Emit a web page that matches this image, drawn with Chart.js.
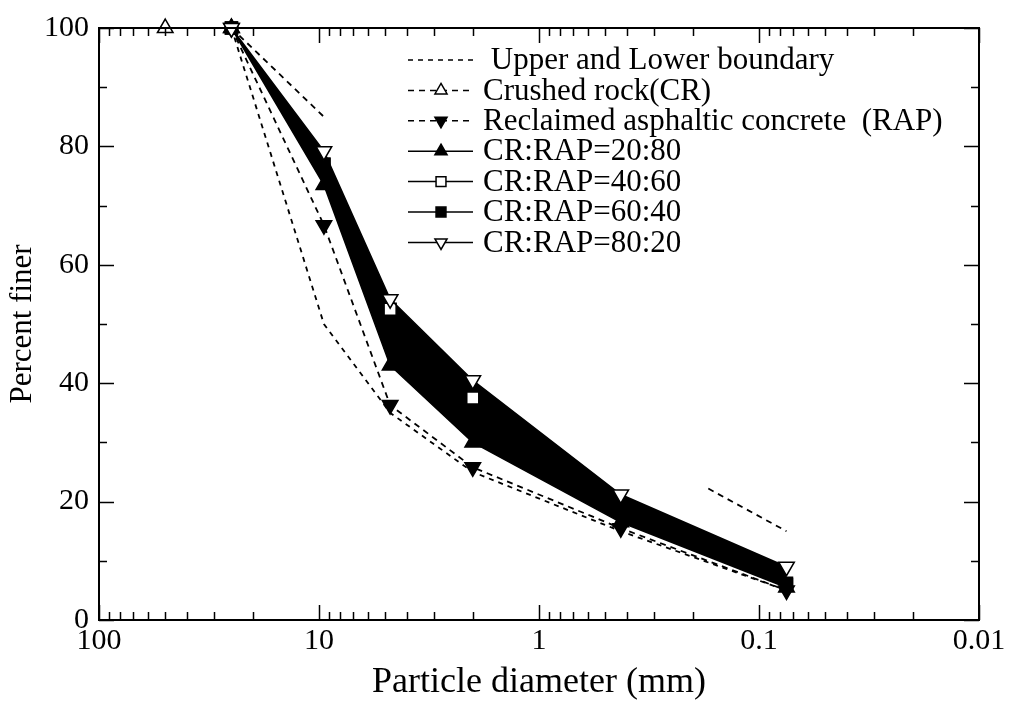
<!DOCTYPE html>
<html>
<head>
<meta charset="utf-8">
<title>Gradation curves</title>
<script src="https://cdn.jsdelivr.net/npm/chart.js@4.4.1/dist/chart.umd.min.js"></script>
<style>
  html, body { margin: 0; padding: 0; background: #fff; }
  #wrap { width: 1009px; height: 704px; }
</style>
</head>
<body>
<div id="wrap"><canvas id="gradation"></canvas></div>
<script>
// Sieve openings (mm)
const SIEVES = [50, 25, 9.5, 4.75, 2.0, 0.425, 0.075];

// Specification envelope (percent passing)
const LOWER_BOUND = [null, 100, 50, 35, 25, 15, 5];
const UPPER_X = [25, 9.5, 2.0, 0.17, 0.075];
const UPPER_BOUND = [100, 85, null, 22.2, 15];

// Materials and blends (percent passing)
const CRUSHED_ROCK = [100, 100, null, null, null, null, null];
const RAP = [null, 100, 66.7, 36.3, 25.8, 15.5, 5];
const MIX_20_80 = [null, 100, 73.5, 43, 30, 16.5, 5.5];
const MIX_40_60 = [null, 100, 77, 52.5, 37.5, 19, 6.2];
const MIX_60_40 = [null, 100, 77, 47, 34, 19, 6];
const MIX_80_20 = [null, 100, 79.2, 54.2, 40.5, 21.2, 9];

// Axis ticks
const X_DECADES = [100, 10, 1, 0.1, 0.01];
const Y_LABELS = [0, 20, 40, 60, 80, 100];

const FONT = "'Liberation Serif', 'Times New Roman', serif";

const pts = (xs, ys) => xs.map((x, i) => ({ x: x, y: ys[i] }));

// minor ticks 2..9 inside every decade
const xTickValues = [];
X_DECADES.forEach(d => {
    xTickValues.push(d);
    if (d < 100) for (let k = 2; k <= 9; k++) xTickValues.push(d * k);
});

function series(label, xs, ys, extra) {
    return Object.assign({
        label: label,
        data: pts(xs, ys),
        borderColor: '#000',
        borderWidth: 1.5,
        pointBorderColor: '#000',
        pointBorderWidth: 1.5,
        pointRadius: 9,
        pointHoverRadius: 9,
        spanGaps: false,
        clip: false,
        tension: 0
    }, extra);
}

const DASH = [6, 5];

const datasets = [
    series(' Upper and Lower boundary', SIEVES, LOWER_BOUND, { borderDash: [5, 5], borderWidth: 1.8, pointRadius: 0, order: 6 }),
    series('', UPPER_X, UPPER_BOUND, { borderDash: DASH, borderWidth: 1.8, pointRadius: 0, order: 6 }),
    series('Crushed rock(CR)', SIEVES, CRUSHED_ROCK, {
        borderDash: DASH, borderWidth: 1.8, pointStyle: 'triangle', pointBackgroundColor: '#fff', order: 5
    }),
    series('Reclaimed asphaltic concrete  (RAP)', SIEVES, RAP, {
        borderDash: DASH, borderWidth: 1.8, pointStyle: 'triangle', pointRotation: 180,
        pointBackgroundColor: '#000', order: 4
    }),
    series('CR:RAP=20:80', SIEVES, MIX_20_80, {
        pointStyle: 'triangle', pointBackgroundColor: '#000', order: 3
    }),
    series('CR:RAP=40:60', SIEVES, MIX_40_60, {
        pointStyle: 'rect', pointRadius: 8.5, pointBackgroundColor: '#fff', order: 2
    }),
    series('CR:RAP=60:40', SIEVES, MIX_60_40, {
        pointStyle: 'rect', pointRadius: 8.5, pointBackgroundColor: '#000', order: 1
    }),
    series('CR:RAP=80:20', SIEVES, MIX_80_20, {
        pointStyle: 'triangle', pointRotation: 180, pointBackgroundColor: '#fff', order: 0,
        backgroundColor: '#000',
        fill: { target: 4, above: '#000', below: '#000' }
    })
];

// datasets shown in the key, top to bottom
const LEGEND_ITEMS = [0, 2, 3, 4, 5, 6, 7];

// inward tick marks on all four sides plus the frame
const frameTicks = {
    id: 'frameTicks',
    afterDraw(chart) {
        const { ctx, chartArea: a } = chart;
        const { x, y } = chart.scales;
        ctx.save();
        ctx.strokeStyle = '#000';
        ctx.lineWidth = 1.5;
        ctx.beginPath();
        x.ticks.forEach(t => {
            const px = Math.round(x.getPixelForValue(t.value)) + 0.5;
            const len = X_DECADES.includes(t.value) ? 15 : 8;
            ctx.moveTo(px, a.bottom); ctx.lineTo(px, a.bottom - len);
            ctx.moveTo(px, a.top); ctx.lineTo(px, a.top + len);
        });
        y.ticks.forEach(t => {
            const py = Math.round(y.getPixelForValue(t.value)) + 0.5;
            const len = t.value % 20 === 0 ? 15 : 8;
            ctx.moveTo(a.left, py); ctx.lineTo(a.left + len, py);
            ctx.moveTo(a.right, py); ctx.lineTo(a.right - len, py);
        });
        ctx.stroke();
        ctx.lineWidth = 2;
        ctx.strokeRect(a.left, a.top, a.right - a.left, a.bottom - a.top);
        ctx.restore();
    }
};

// key with line + marker samples
const sampleLegend = {
    id: 'sampleLegend',
    afterDraw(chart) {
        const ctx = chart.ctx;
        const x0 = 408, x1 = 473, xm = 441, xt = 483, top = 60, step = 30.4;
        ctx.save();
        ctx.font = '31px ' + FONT;
        ctx.textBaseline = 'middle';
        LEGEND_ITEMS.forEach((idx, row) => {
            const ds = chart.data.datasets[idx];
            const yy = top + row * step;
            ctx.strokeStyle = '#000';
            ctx.lineWidth = 1.5;
            ctx.setLineDash(ds.borderDash || []);
            ctx.beginPath();
            ctx.moveTo(x0, yy);
            ctx.lineTo(x1, yy);
            ctx.stroke();
            ctx.setLineDash([]);
            if (ds.pointRadius) {
                ctx.fillStyle = ds.pointBackgroundColor;
                Chart.helpers.drawPoint(ctx, {
                    pointStyle: ds.pointStyle,
                    rotation: ds.pointRotation || 0,
                    radius: 7,
                    borderWidth: 1.5
                }, xm, yy);
            }
            ctx.fillStyle = '#000';
            ctx.fillText(ds.label, xt, yy + 1);
        });
        ctx.restore();
    }
};

Chart.defaults.font.family = FONT;
Chart.defaults.color = '#000';

new Chart(document.getElementById('gradation'), {
    type: 'line',
    data: { datasets: datasets },
    options: {
        responsive: true,
        maintainAspectRatio: false,
        animation: false,
        layout: { padding: { left: 0, top: 20, right: 30, bottom: 0 } },
        plugins: {
            legend: { display: false },
            tooltip: { enabled: false },
            filler: { drawTime: 'beforeDatasetsDraw' }
        },
        scales: {
            x: {
                type: 'logarithmic',
                reverse: true,
                min: 0.01,
                max: 100,
                afterBuildTicks: s => { s.ticks = xTickValues.map(v => ({ value: v })); },
                afterFit: s => { s.height = 84; },
                grid: { display: false, drawTicks: false },
                border: { display: false },
                ticks: {
                    autoSkip: false,
                    maxRotation: 0,
                    padding: 3,
                    font: { size: 30 },
                    callback: v => X_DECADES.includes(v) ? String(v) : ''
                },
                title: {
                    display: true,
                    text: 'Particle diameter (mm)',
                    font: { size: 36 },
                    padding: { top: 0, bottom: 0 }
                }
            },
            y: {
                min: 0,
                max: 100,
                afterFit: s => { s.width = 99; },
                grid: { display: false, drawTicks: false },
                border: { display: false },
                ticks: {
                    stepSize: 10,
                    padding: 10,
                    font: { size: 30 },
                    callback: v => Y_LABELS.includes(v) ? String(v) : ''
                },
                title: {
                    display: true,
                    text: 'Percent finer',
                    font: { size: 31 },
                    padding: { top: 4, bottom: 0 }
                }
            }
        }
    },
    plugins: [frameTicks, sampleLegend]
});
</script>
</body>
</html>
